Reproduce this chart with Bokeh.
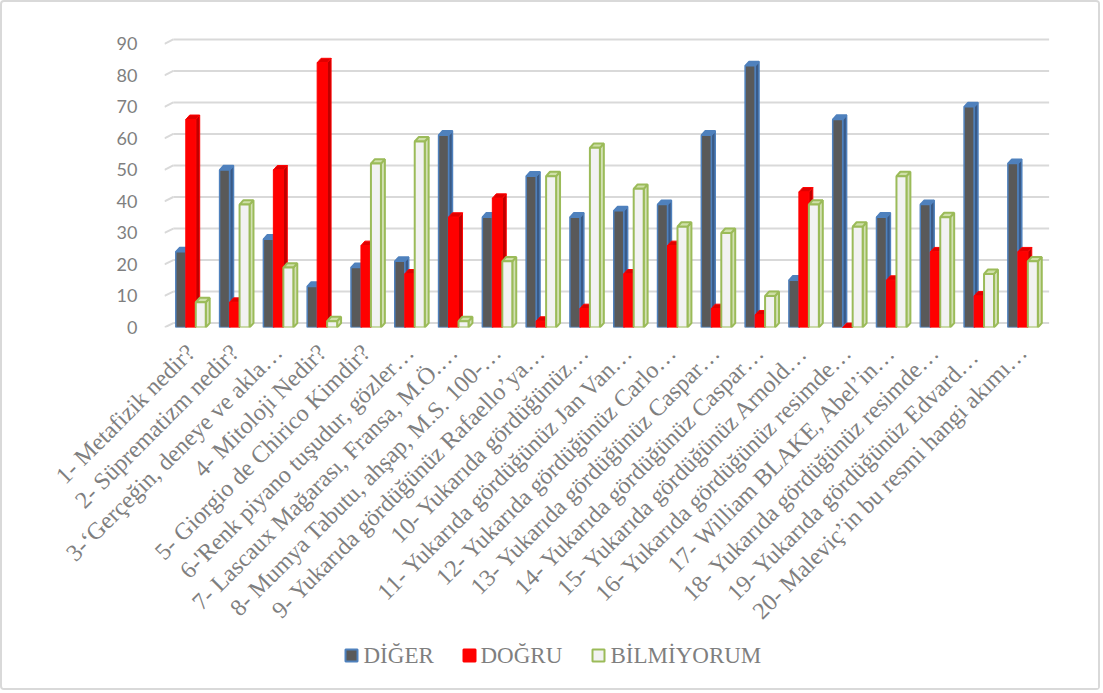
from bokeh.plotting import figure
from bokeh.layouts import column
from bokeh.models import Range1d, FixedTicker, ColumnDataSource
from bokeh.core.properties import value
from bokeh.embed import file_html
from bokeh.resources import INLINE
from math import pi

questions = [
    "1- Metafizik nedir?",
    "2- Süprematizm nedir?",
    "3-‘Gerçeğin, deneye ve akla…",
    "4- Mitoloji Nedir?",
    "5- Giorgio de Chirico Kimdir?",
    "6-'Renk piyano tuşudur, gözler…",
    "7- Lascaux Mağarası, Fransa, M.Ö.…",
    "8- Mumya Tabutu, ahşap, M.S. 100-…",
    "9- Yukarıda gördüğünüz Rafaello’ya…",
    "10- Yukarıda gördüğünüz…",
    "11- Yukarıda gördüğünüz Jan Van…",
    "12- Yukarıda gördüğünüz Carlo…",
    "13- Yukarıda gördüğünüz Caspar…",
    "14- Yukarıda gördüğünüz Caspar…",
    "15- Yukarıda gördüğünüz Arnold…",
    "16- Yukarıda gördüğünüz resimde…",
    "17- William BLAKE, Abel’in…",
    "18- Yukarıda gördüğünüz resimde…",
    "19- Yukarıda gördüğünüz  Edvard…",
    "20- Maleviç’in bu resmi hangi akımı…",
]
series_names = ["DİĞER", "DOĞRU", "BİLMİYORUM"]
diger = [24, 50, 28, 13, 19, 21, 61, 35, 48, 35, 37, 39, 61, 83, 15, 66, 35, 39, 70, 52]
dogru = [66, 8, 50, 84, 26, 17, 35, 41, 2, 6, 17, 26, 6, 4, 43, 0, 15, 24, 10, 24]
bilmiyorum = [8, 39, 19, 2, 52, 59, 2, 21, 48, 57, 44, 32, 30, 10, 39, 32, 48, 35, 17, 21]
y_ticks = [0, 10, 20, 30, 40, 50, 60, 70, 80, 90]

# 3D depth offsets (data units)
DX = 0.09
DY = 1.4
W = 0.228

p = figure(width=1096, height=634, output_backend="svg", toolbar_location=None,
           x_range=Range1d(-0.1, 20.2), y_range=Range1d(0, 92),
           min_border_left=162, min_border_right=45, min_border_top=35,
           min_border_bottom=300, outline_line_color=None,
           background_fill_color="white", border_fill_color="white")

p.xgrid.visible = False
p.ygrid.visible = False

# back-wall gridlines with slanted left join
gx0 = [-0.1] * len(y_ticks)
gx1 = [0.1] * len(y_ticks)
gy0 = list(y_ticks)
gy1 = [t + DY for t in y_ticks]
p.segment(x0=gx0, y0=gy0, x1=gx1, y1=gy1, line_color="#d9d9d9", line_width=2)
p.segment(x0=gx1, y0=gy1, x1=[20.1] * len(y_ticks), y1=gy1, line_color="#d9d9d9", line_width=2)

styles = [
    dict(front="#595959", fline="#4F81BD", side="#3a5a86", top="#4F81BD", lw=1.5),
    dict(front="#FF0000", fline="#FF0000", side="#C00000", top="#E00000", lw=1),
    dict(front="#F2F2F2", fline="#9BBB59", side="#d2e0b4", top="#cfe0a8", lw=2),
]
offsets = [-W, 0.0, W]
for vals, off, st in zip([diger, dogru, bilmiyorum], offsets, styles):
    centers = [i + 0.5 + off for i in range(len(vals))]
    left = [c - W / 2 for c in centers]
    right = [c + W / 2 for c in centers]
    side_xs = [[r, r + DX, r + DX, r] for r in right]
    side_ys = [[0, DY, v + DY, v] for v in vals]
    top_xs = [[l, r, r + DX, l + DX] for l, r in zip(left, right)]
    top_ys = [[v, v, v + DY, v + DY] for v in vals]
    p.patches(side_xs, side_ys, fill_color=st["side"], line_color=st["fline"], line_width=st["lw"])
    p.patches(top_xs, top_ys, fill_color=st["top"], line_color=st["fline"], line_width=st["lw"])
    src = ColumnDataSource(dict(left=left, right=right, top=vals, bottom=[0] * len(vals)))
    p.quad(left="left", right="right", top="top", bottom="bottom", source=src,
           fill_color=st["front"], line_color=st["fline"], line_width=st["lw"])

# axes
p.yaxis.ticker = FixedTicker(ticks=y_ticks)
p.yaxis.axis_line_color = None
p.yaxis.major_tick_line_color = None
p.yaxis.minor_tick_line_color = None
p.yaxis.major_label_standoff = 21
p.yaxis.major_label_text_font = "Lato"
p.yaxis.major_label_text_font_size = "18px"
p.yaxis.major_label_text_color = "#7f7f7f"

p.xaxis.ticker = FixedTicker(ticks=[i + 0.5 for i in range(len(questions))])
p.xaxis.major_label_overrides = {i + 0.5: q for i, q in enumerate(questions)}
p.xaxis.major_label_orientation = pi / 4
p.xaxis.axis_line_color = None
p.xaxis.major_tick_line_color = None
p.xaxis.minor_tick_line_color = None
p.xaxis.major_label_standoff = 15
p.xaxis.major_label_text_font = "Liberation Serif"
p.xaxis.major_label_text_font_size = "24px"
p.xaxis.major_label_text_color = "#7f7f7f"

# legend strip: its frame is aligned with the main frame, so use page-pixel x coordinates
lg = figure(width=1096, height=52, output_backend="svg", toolbar_location=None,
            x_range=Range1d(164, 1053), y_range=Range1d(0, 52),
            x_axis_location=None, y_axis_location=None,
            min_border=0, outline_line_color=None,
            background_fill_color="white", border_fill_color="white")
lg.xgrid.visible = False
lg.ygrid.visible = False
sq_x = [351, 469, 598]
tx_x = [363, 480, 610]
ly = 33
for (name, st, sx, tx) in zip(series_names, styles, sq_x, tx_x):
    lg.rect(x=[sx], y=[ly], width=12, height=12, width_units="screen", height_units="screen",
            fill_color=st["front"], line_color=st["fline"], line_width=2)
    lg.text(x=[tx], y=[ly], text=[name], text_align="left", text_baseline="middle",
            text_font=value("Liberation Serif"), text_font_size=value("23px"),
            text_color="#7f7f7f")

layout = column(p, lg, spacing=0)
layout.styles = {"border": "2px solid #d9d9d9", "border-radius": "4px"}

open("out.html", "w").write(file_html(layout, INLINE))
